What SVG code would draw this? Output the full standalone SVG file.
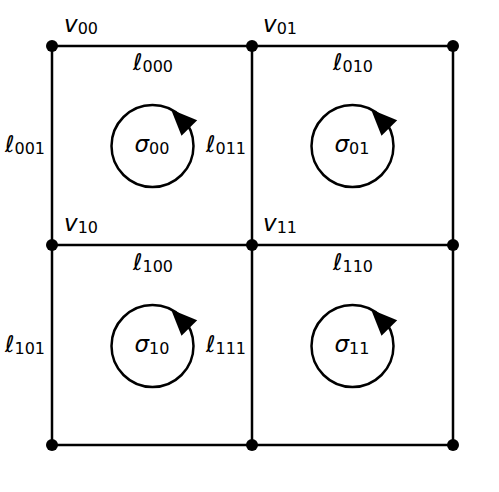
<svg xmlns="http://www.w3.org/2000/svg" width="499" height="492" viewBox="0 0 499 492">
<style>
.e{stroke:#000;stroke-width:2.5;fill:none;stroke-linecap:butt}
.d{fill:#000}
.c{stroke:#000;stroke-width:2.5;fill:none}
.t{font-family:"DejaVu Sans",sans-serif;font-size:23px;fill:#000}
.i{font-style:oblique}
.s{font-size:16px}
</style>
<defs>
<g id="orient">
<circle class="c" cx="0" cy="0" r="41"/>
<polygon points="18.6,-36.5 44.7,-25.7 29,-10.3" fill="#000"/>
</g>
</defs>
<rect width="499" height="492" fill="#fff"/>
<g id="connectors">
<line class="e" x1="52" y1="46" x2="453" y2="46"/>
<line class="e" x1="52" y1="245" x2="453" y2="245"/>
<line class="e" x1="52" y1="445" x2="453" y2="445"/>
<line class="e" x1="52" y1="46" x2="52" y2="445"/>
<line class="e" x1="252" y1="46" x2="252" y2="445"/>
<line class="e" x1="453" y1="46" x2="453" y2="445"/>
</g>
<g id="v00"><circle class="d" cx="52" cy="46" r="6"/><text class="t" x="64" y="32"><tspan class="i">v</tspan><tspan class="s" dy="2">00</tspan></text></g>
<g id="v01"><circle class="d" cx="252" cy="46" r="6"/><text class="t" x="263" y="32"><tspan class="i">v</tspan><tspan class="s" dy="2">01</tspan></text></g>
<g id="v02"><circle class="d" cx="453" cy="46" r="6"/></g>
<g id="v10"><circle class="d" cx="52" cy="245" r="6"/><text class="t" x="64" y="231"><tspan class="i">v</tspan><tspan class="s" dy="2">10</tspan></text></g>
<g id="v11"><circle class="d" cx="252" cy="245" r="6"/><text class="t" x="263" y="231"><tspan class="i">v</tspan><tspan class="s" dy="2">11</tspan></text></g>
<g id="v12"><circle class="d" cx="453" cy="245" r="6"/></g>
<g id="v20"><circle class="d" cx="52" cy="445" r="6"/></g>
<g id="v21"><circle class="d" cx="252" cy="445" r="6"/></g>
<g id="v22"><circle class="d" cx="453" cy="445" r="6"/></g>
<g id="edge-labels">
<text class="t" x="153" y="70" text-anchor="middle"><tspan class="i">ℓ</tspan><tspan class="s" dy="2">000</tspan></text>
<text class="t" x="353" y="70" text-anchor="middle"><tspan class="i">ℓ</tspan><tspan class="s" dy="2">010</tspan></text>
<text class="t" x="25" y="152" text-anchor="middle"><tspan class="i">ℓ</tspan><tspan class="s" dy="2">001</tspan></text>
<text class="t" x="226" y="152" text-anchor="middle"><tspan class="i">ℓ</tspan><tspan class="s" dy="2">011</tspan></text>
<text class="t" x="153" y="270" text-anchor="middle"><tspan class="i">ℓ</tspan><tspan class="s" dy="2">100</tspan></text>
<text class="t" x="353" y="270" text-anchor="middle"><tspan class="i">ℓ</tspan><tspan class="s" dy="2">110</tspan></text>
<text class="t" x="25" y="352" text-anchor="middle"><tspan class="i">ℓ</tspan><tspan class="s" dy="2">101</tspan></text>
<text class="t" x="226" y="352" text-anchor="middle"><tspan class="i">ℓ</tspan><tspan class="s" dy="2">111</tspan></text>
</g>
<g id="s00"><use href="#orient" transform="translate(152.5,146)"/><text class="t" x="152" y="152" text-anchor="middle"><tspan class="i">σ</tspan><tspan class="s" dy="2">00</tspan></text></g>
<g id="s01"><use href="#orient" transform="translate(352.5,146)"/><text class="t" x="352" y="152" text-anchor="middle"><tspan class="i">σ</tspan><tspan class="s" dy="2">01</tspan></text></g>
<g id="s10"><use href="#orient" transform="translate(152.5,346)"/><text class="t" x="152" y="352" text-anchor="middle"><tspan class="i">σ</tspan><tspan class="s" dy="2">10</tspan></text></g>
<g id="s11"><use href="#orient" transform="translate(352.5,346)"/><text class="t" x="352" y="352" text-anchor="middle"><tspan class="i">σ</tspan><tspan class="s" dy="2">11</tspan></text></g>
</svg>
